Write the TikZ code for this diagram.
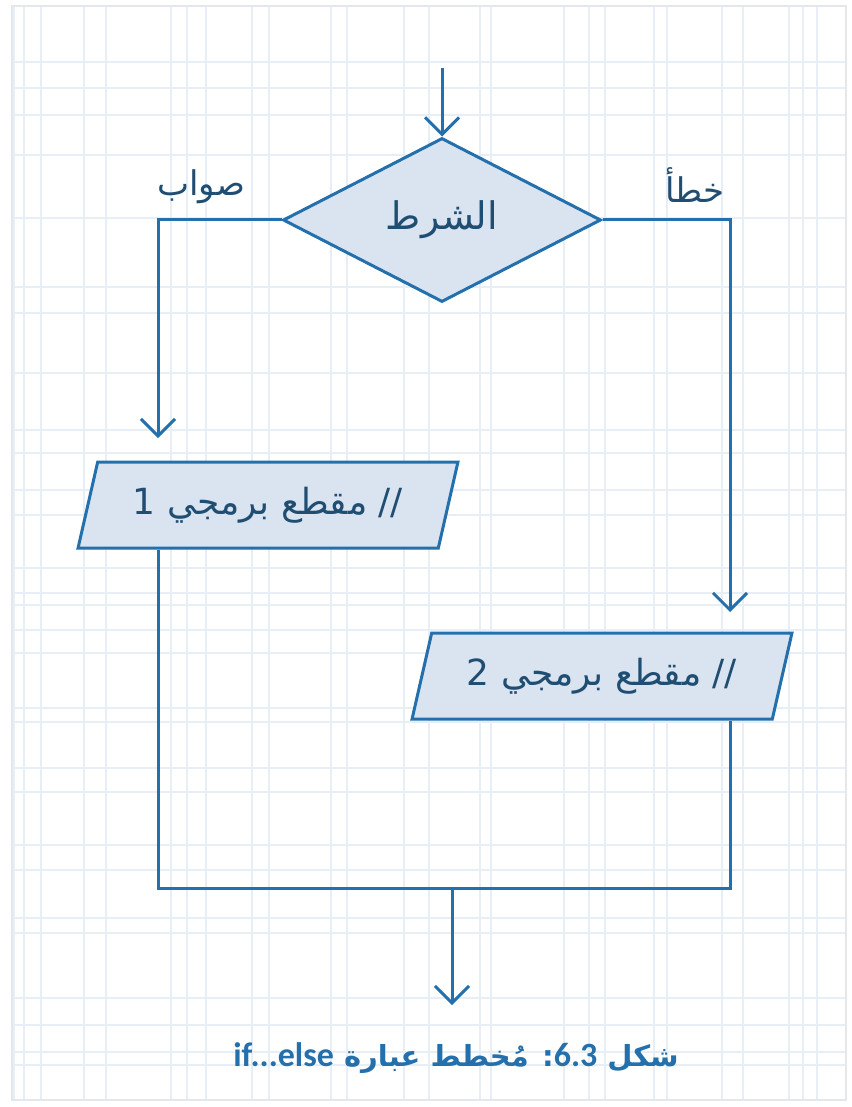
\documentclass[tikz,border=0pt]{standalone}
\usepackage{fontspec}
\usetikzlibrary{shapes.geometric,arrows.meta}
\newfontfamily\arabicfont[Script=Arabic]{DejaVu Sans}
\newfontfamily\latinfont{Carlito}
\TeXXeTstate=1
\definecolor{flow_blue}{RGB}{35,112,172}
\definecolor{box_fill}{RGB}{218,228,240}
\definecolor{label_text}{RGB}{32,78,115}
\definecolor{grid_blue}{RGB}{232,238,246}
\definecolor{frame_gray}{RGB}{228,231,236}

\tikzset{
	flow/.style={draw=flow_blue,line width=1.5pt,-{Straight Barb[length=8.5pt,width=17pt,line width=1.5pt]}},
	wire/.style={draw=flow_blue,line width=1.5pt},
	cond/.style={diamond,draw=flow_blue,fill=box_fill,line width=1.5pt,minimum width=159pt,minimum height=82pt,inner sep=0pt,text=label_text},
	block/.style={trapezium,trapezium left angle=66.7,trapezium right angle=113.3,trapezium stretches=true,draw=flow_blue,fill=box_fill,line width=1.5pt,minimum width=190pt,minimum height=43pt,inner sep=0pt,text=label_text},
	branch/.style={text=label_text,font=\arabicfont\fontsize{17}{19}\selectfont}
}

\begin{document}
\begin{tikzpicture}[x=0.5pt,y=-0.5pt]
	\useasboundingbox (0,0) rectangle (851,1107);
	\fill[white] (0,0) rectangle (851,1107);
	% background grid
	\foreach \gx in {14,24,41,84,106,171,187,206,252,269,331,347,404,429,480,491,564,589,605,654,667,722,743,789,803,817}
		\draw[grid_blue,line width=1.2pt] (\gx,6) -- (\gx,1100);
	\foreach \gy in {62,88,115,155,218,287,313,373,430,453,490,515,568,593,605,630,653,708,722,768,792,845,870,918,933,998,1025,1052,1065}
		\draw[grid_blue,line width=1.2pt] (12,\gy) -- (846,\gy);
	\draw[frame_gray,line width=1.2pt] (12,6) rectangle (846,1100);

	% flowchart
	\coordinate (start) at (442,68);
	\node[cond,font=\arabicfont\fontsize{19}{21}\selectfont] (test) at (442,220) {\beginR الشرط\endR};
	\node[block,font=\arabicfont\fontsize{18}{20}\selectfont] (blk1) at (268,505) {\beginR // مقطع برمجي 1\endR};
	\node[block,font=\arabicfont\fontsize{18}{20}\selectfont] (blk2) at (602,676) {\beginR // مقطع برمجي 2\endR};
	\node[branch] (yeslbl) at (201,187) {\beginR صواب\endR};
	\node[branch] (nolbl) at (695,185) {\beginR خطأ\endR};
	\coordinate (yes) at (158,438);
	\coordinate (no) at (730,612);
	\coordinate (join) at (452,888);
	\coordinate (stop) at (452,1005);

	\draw[flow] (start) -- (test.north);
	\draw[flow] (test.west) -| (yes);
	\draw[flow] (test.east) -| (no);
	\draw[wire] (yes |- blk1.south) -- (yes |- join) -- (no |- join) -- (no |- blk2.south);
	\draw[flow] (join) -- (stop);

	% caption
	\node[text=flow_blue,font=\arabicfont\bfseries\fontsize{14.5}{17}\selectfont] (caption) at (456,1058)
		{\beginR شكل \beginL{\latinfont\bfseries\fontsize{17}{19}\selectfont 6.3}\endL: مُخطط عبارة \beginL{\latinfont\bfseries\fontsize{17}{19}\selectfont if...else}\endL\endR};
\end{tikzpicture}
\end{document}
